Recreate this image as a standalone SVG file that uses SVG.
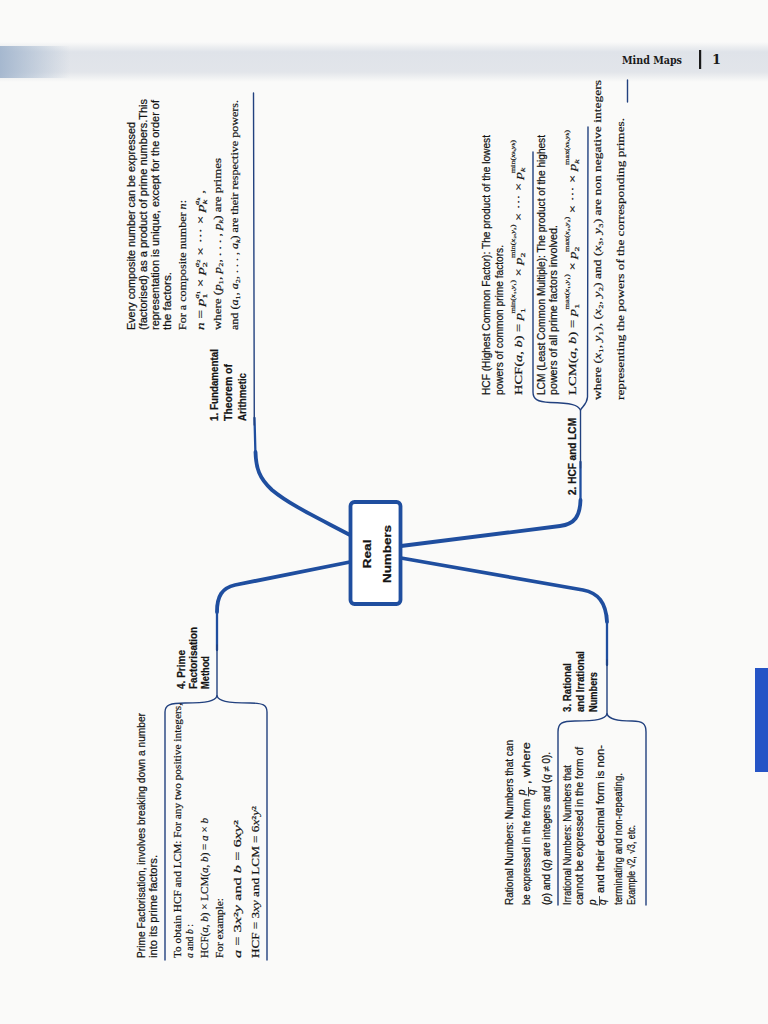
<svg xmlns="http://www.w3.org/2000/svg" width="768" height="1024" viewBox="0 0 768 1024">
<defs>
<style>
.s{font-family:"Liberation Sans",Arial,sans-serif;font-size:10px;fill:#141414;stroke:#141414;stroke-width:0.22}
.b{font-weight:bold}
.m{font-family:"Liberation Serif","Times New Roman",serif;font-size:10.5px;fill:#141414;stroke:#141414;stroke-width:0.2}
.i{font-style:italic}
.sb{font-size:7px}
.sp{font-size:6px}
.br{fill:none;stroke:#1f4e9f;stroke-linecap:round;stroke-linejoin:round}
.tk{stroke-width:3.8}
.md{stroke-width:2.3}
.tn{stroke-width:1.4;stroke:#22417f}
</style>
<linearGradient id="hv" x1="0" y1="0" x2="0" y2="1">
<stop offset="0" stop-color="#dfe3e9" stop-opacity="0"/>
<stop offset="0.25" stop-color="#dfe3e9"/>
<stop offset="0.75" stop-color="#e2e5ea"/>
<stop offset="1" stop-color="#e2e5ea" stop-opacity="0"/>
</linearGradient>
<linearGradient id="hh" x1="0" y1="0" x2="1" y2="0">
<stop offset="0" stop-color="#9fb3cc" stop-opacity="0.9"/>
<stop offset="1" stop-color="#9fb3cc" stop-opacity="0"/>
</linearGradient>
</defs>
<rect x="0" y="0" width="768" height="1024" fill="#fafaf9"/>
<g id="header">
<rect x="0" y="42" width="768" height="40" fill="url(#hv)"/>
<rect x="0" y="46" width="70" height="32" fill="url(#hh)"/>
<text x="622" y="64" font-family="DejaVu Serif,Liberation Serif,serif" font-weight="bold" font-size="11" textLength="60" lengthAdjust="spacingAndGlyphs" fill="#1a1a1a">Mind Maps</text>
<rect x="699" y="50" width="2.2" height="19" fill="#1a1a1a"/>
<text x="712" y="64" font-family="DejaVu Serif,Liberation Serif,serif" font-weight="bold" font-size="13" fill="#1a1a1a">1</text>
</g>
<rect id="tab" x="755" y="668" width="13" height="104" fill="#2554c6"/>

<g id="connectors">
<path class="br tk" d="M350,535 C318,518 290,505 272,490 C259,478 256,468 255.5,452"/>
<path class="br md" d="M255.5,456 L254.5,418"/>
<path class="br tn" d="M254.3,425 L253.5,93"/>

<path class="br tk" d="M401,546 L560,526 C575,524 580,516 580.5,500"/>
<path class="br md" d="M580.5,505 L580.5,462"/>
<path class="br tn" d="M580.5,468 L580.5,410"/>
<path class="br tn" d="M580.5,410 C578,405 572,403 550,402.5 C537,402 533,399 533,392 L533,152"/>
<path class="br tn" d="M580.5,410 C583,406 587,404 587.5,397 L588,127"/>
<path class="br tn" d="M627.5,80 L627.5,102"/>

<path class="br tk" d="M401,558 L583,590 C598,593 606,602 607,622"/>
<path class="br md" d="M607,615 L607,665"/>
<path class="br tn" d="M607,660 L607,714"/>
<path class="br tn" d="M607,714 C605,719 598,721 575,721 C562,721 558,723 558,732 L558,905"/>
<path class="br tn" d="M607,714 C609,719 616,721 632,721 C643,721 646,724 646,732 L646,905"/>

<path class="br tk" d="M350,562 L235,585 C222,588 217,596 217,612"/>
<path class="br md" d="M217,605 L217,650"/>
<path class="br tn" d="M217,645 L217,696"/>
<path class="br tn" d="M217,696 C215,701 208,703 185,703 C170,703 165,705 165,712 L165,960"/>
<path class="br tn" d="M217,696 C219,701 226,703 250,703 C263,703 267,705 267,712 L267,960"/>
</g>

<g id="center">
<rect x="350.5" y="502" width="50" height="102" rx="4" fill="#ffffff" stroke="#1f4e9f" stroke-width="3.8"/>
<text class="s b" font-size="16" text-anchor="middle" transform="translate(371,554) rotate(-90)" textLength="29" lengthAdjust="spacingAndGlyphs">Real</text>
<text class="s b" font-size="16" text-anchor="middle" transform="translate(391,554) rotate(-90)" textLength="58" lengthAdjust="spacingAndGlyphs">Numbers</text>
</g>

<g id="branch1">
<text class="s b" transform="translate(218,421) rotate(-90)" textLength="72" lengthAdjust="spacingAndGlyphs">1. Fundamental</text>
<text class="s b" transform="translate(232,421) rotate(-90)" textLength="57" lengthAdjust="spacingAndGlyphs">Theorem of</text>
<text class="s b" transform="translate(246,421) rotate(-90)" textLength="48" lengthAdjust="spacingAndGlyphs">Arithmetic</text>
<text class="s" transform="translate(135,330) rotate(-90)" textLength="208" lengthAdjust="spacingAndGlyphs">Every composite number can be expressed</text>
<text class="s" transform="translate(147,330) rotate(-90)" textLength="231" lengthAdjust="spacingAndGlyphs">(factorised) as a product of prime numbers.This</text>
<text class="s" transform="translate(159,330) rotate(-90)" textLength="230" lengthAdjust="spacingAndGlyphs">representation is unique, except for the order of</text>
<text class="s" transform="translate(171,330) rotate(-90)" textLength="58" lengthAdjust="spacingAndGlyphs">the factors.</text>
<text class="m" transform="translate(186,330) rotate(-90)" textLength="130" lengthAdjust="spacingAndGlyphs">For a composite number <tspan class="i">n</tspan>:</text>
<text class="m" font-size="11" transform="translate(204,330) rotate(-90)" textLength="140" lengthAdjust="spacingAndGlyphs"><tspan class="i">n</tspan> = <tspan class="i">p</tspan><tspan class="sb" dy="2.5">1</tspan><tspan class="sp i" dx="-3.5" dy="-8">a</tspan><tspan font-size="4.5" dy="1">1</tspan><tspan dy="4.5"> × </tspan><tspan class="i">p</tspan><tspan class="sb" dy="2.5">2</tspan><tspan class="sp i" dx="-3.5" dy="-8">a</tspan><tspan font-size="4.5" dy="1">2</tspan><tspan dy="4.5"> × ··· × </tspan><tspan class="i">p</tspan><tspan class="sb i" dy="2.5">k</tspan><tspan class="sp i" dx="-3.5" dy="-8">a</tspan><tspan font-size="4.5" class="i" dy="1">k</tspan><tspan dy="4.5"> ,</tspan></text>
<text class="m" font-size="10" transform="translate(221,330) rotate(-90)" textLength="172" lengthAdjust="spacingAndGlyphs">where (<tspan class="i">p</tspan>₁, <tspan class="i">p</tspan>₂, . . . , <tspan class="i">p</tspan><tspan class="sb i" dy="2">k</tspan><tspan dy="-2">) are primes</tspan></text>
<text class="m" transform="translate(238,330) rotate(-90)" textLength="230" lengthAdjust="spacingAndGlyphs">and (<tspan class="i">a</tspan>₁, <tspan class="i">a</tspan>₂, . . . , <tspan class="i">a</tspan><tspan class="sb i" dy="2">k</tspan><tspan dy="-2">) are their respective powers.</tspan></text>
</g>

<g id="branch2">
<text class="s b" transform="translate(576,495) rotate(-90)" textLength="77" lengthAdjust="spacingAndGlyphs">2. HCF and LCM</text>
<text class="s" transform="translate(490,395) rotate(-90)" textLength="260" lengthAdjust="spacingAndGlyphs">HCF (Highest Common Factor): The product of the lowest</text>
<text class="s" transform="translate(503,395) rotate(-90)" textLength="150" lengthAdjust="spacingAndGlyphs">powers of common prime factors.</text>
<text class="m" font-size="12" transform="translate(522,395) rotate(-90)" textLength="255" lengthAdjust="spacingAndGlyphs">HCF(<tspan class="i">a</tspan>, <tspan class="i">b</tspan>) = <tspan class="i">p</tspan><tspan class="sb" dy="3">1</tspan><tspan class="sp" dx="-4" dy="-10">min(<tspan class="i">x</tspan>₁,<tspan class="i">y</tspan>₁)</tspan><tspan dy="7"> × </tspan><tspan class="i">p</tspan><tspan class="sb" dy="3">2</tspan><tspan class="sp" dx="-4" dy="-10">min(<tspan class="i">x</tspan>₂,<tspan class="i">y</tspan>₂)</tspan><tspan dy="7"> × ··· × </tspan><tspan class="i">p</tspan><tspan class="sb i" dy="3">k</tspan><tspan class="sp" dx="-4" dy="-10">min(<tspan class="i">x</tspan><tspan class="i" font-size="4.5">k</tspan>,<tspan class="i">y</tspan><tspan class="i" font-size="4.5">k</tspan>)</tspan></text>
<text class="s" transform="translate(545,395) rotate(-90)" textLength="260" lengthAdjust="spacingAndGlyphs">LCM (Least Common Multiple): The product of the highest</text>
<text class="s" transform="translate(557,395) rotate(-90)" textLength="170" lengthAdjust="spacingAndGlyphs">powers of all prime factors involved.</text>
<text class="m" font-size="12" transform="translate(576,395) rotate(-90)" textLength="265" lengthAdjust="spacingAndGlyphs">LCM(<tspan class="i">a</tspan>, <tspan class="i">b</tspan>) = <tspan class="i">p</tspan><tspan class="sb" dy="3">1</tspan><tspan class="sp" dx="-4" dy="-10">max(<tspan class="i">x</tspan>₁,<tspan class="i">y</tspan>₁)</tspan><tspan dy="7"> × </tspan><tspan class="i">p</tspan><tspan class="sb" dy="3">2</tspan><tspan class="sp" dx="-4" dy="-10">max(<tspan class="i">x</tspan>₂,<tspan class="i">y</tspan>₂)</tspan><tspan dy="7"> × ··· × </tspan><tspan class="i">p</tspan><tspan class="sb i" dy="3">k</tspan><tspan class="sp" dx="-4" dy="-10">max(<tspan class="i">x</tspan><tspan class="i" font-size="4.5">k</tspan>,<tspan class="i">y</tspan><tspan class="i" font-size="4.5">k</tspan>)</tspan></text>
<text class="m" font-size="11" transform="translate(601,400) rotate(-90)" textLength="320" lengthAdjust="spacingAndGlyphs">where (<tspan class="i">x</tspan>₁, <tspan class="i">y</tspan>₁), (<tspan class="i">x</tspan>₂, <tspan class="i">y</tspan>₂) and (<tspan class="i">x</tspan>₃, <tspan class="i">y</tspan>₃) are non negative integers</text>
<text class="m" font-size="11" transform="translate(624,400) rotate(-90)" textLength="282" lengthAdjust="spacingAndGlyphs">representing the powers of the corresponding primes.</text>
</g>

<g id="branch3">
<text class="s b" transform="translate(571,712) rotate(-90)" textLength="49" lengthAdjust="spacingAndGlyphs">3. Rational</text>
<text class="s b" transform="translate(584,712) rotate(-90)" textLength="61" lengthAdjust="spacingAndGlyphs">and Irrational</text>
<text class="s b" transform="translate(597,712) rotate(-90)" textLength="40" lengthAdjust="spacingAndGlyphs">Numbers</text>
<text class="s" transform="translate(513,905) rotate(-90)" textLength="165" lengthAdjust="spacingAndGlyphs">Rational Numbers: Numbers that can</text>
<text class="s" transform="translate(530,905) rotate(-90)" textLength="106" lengthAdjust="spacingAndGlyphs">be expressed in the form</text>
<text class="s i" font-size="9.5" transform="translate(525,795) rotate(-90)">p</text>
<text class="s i" font-size="9.5" transform="translate(535,795) rotate(-90)">q</text>
<path d="M528.5,796.5 L528.5,787" stroke="#161616" stroke-width="0.8"/>
<text class="s" transform="translate(530,784) rotate(-90)" textLength="42" lengthAdjust="spacingAndGlyphs">, where</text>
<text class="s" transform="translate(550,905) rotate(-90)" textLength="153" lengthAdjust="spacingAndGlyphs">(<tspan class="i">p</tspan>) and (<tspan class="i">q</tspan>) are integers and (<tspan class="i">q</tspan> ≠ 0).</text>
<text class="s" transform="translate(571,905) rotate(-90)" textLength="140" lengthAdjust="spacingAndGlyphs">Irrational Numbers: Numbers that</text>
<text class="s" transform="translate(583,905) rotate(-90)" textLength="158" lengthAdjust="spacingAndGlyphs">cannot be expressed in the form of</text>
<text class="s i" font-size="9.5" transform="translate(596,905) rotate(-90)">p</text>
<text class="s i" font-size="9.5" transform="translate(606,905) rotate(-90)">q</text>
<path d="M599.5,905.5 L599.5,896" stroke="#161616" stroke-width="0.8"/>
<text class="s" transform="translate(604,893) rotate(-90)" textLength="148" lengthAdjust="spacingAndGlyphs">and their decimal form is non-</text>
<text class="s" transform="translate(622,905) rotate(-90)" textLength="132" lengthAdjust="spacingAndGlyphs">terminating and non-repeating.</text>
<text class="s" transform="translate(635,905) rotate(-90)" textLength="80" lengthAdjust="spacingAndGlyphs">Example √2, √3, etc.</text>
</g>

<g id="branch4">
<text class="s b" transform="translate(185,689) rotate(-90)" textLength="39" lengthAdjust="spacingAndGlyphs">4. Prime</text>
<text class="s b" transform="translate(197,689) rotate(-90)" textLength="62" lengthAdjust="spacingAndGlyphs">Factorisation</text>
<text class="s b" transform="translate(209,689) rotate(-90)" textLength="33" lengthAdjust="spacingAndGlyphs">Method</text>
<text class="s" transform="translate(145,958) rotate(-90)" textLength="245" lengthAdjust="spacingAndGlyphs">Prime Factorisation, involves breaking down a number</text>
<text class="s" transform="translate(157,958) rotate(-90)" textLength="103" lengthAdjust="spacingAndGlyphs">into its prime factors.</text>
<text class="m" transform="translate(181,958) rotate(-90)" textLength="255" lengthAdjust="spacingAndGlyphs">To obtain HCF and LCM: For any two positive integers,</text>
<text class="m" transform="translate(193,958) rotate(-90)" textLength="34" lengthAdjust="spacingAndGlyphs"><tspan class="i">a</tspan> and <tspan class="i">b</tspan> :</text>
<text class="m" transform="translate(208,958) rotate(-90)" textLength="140" lengthAdjust="spacingAndGlyphs">HCF(<tspan class="i">a</tspan>, <tspan class="i">b</tspan>) × LCM(<tspan class="i">a</tspan>, <tspan class="i">b</tspan>) = <tspan class="i">a</tspan> × <tspan class="i">b</tspan></text>
<text class="m" transform="translate(223,958) rotate(-90)" textLength="60" lengthAdjust="spacingAndGlyphs">For example:</text>
<text class="m" transform="translate(241,958) rotate(-90)" textLength="138" lengthAdjust="spacingAndGlyphs"><tspan class="i">a</tspan> = 3<tspan class="i">x</tspan>²<tspan class="i">y</tspan>   and   <tspan class="i">b</tspan> = 6<tspan class="i">xy</tspan>²</text>
<text class="m" transform="translate(259,958) rotate(-90)" textLength="152" lengthAdjust="spacingAndGlyphs">HCF = 3<tspan class="i">xy</tspan>   and   LCM = 6<tspan class="i">x</tspan>²<tspan class="i">y</tspan>²</text>
</g>
</svg>
